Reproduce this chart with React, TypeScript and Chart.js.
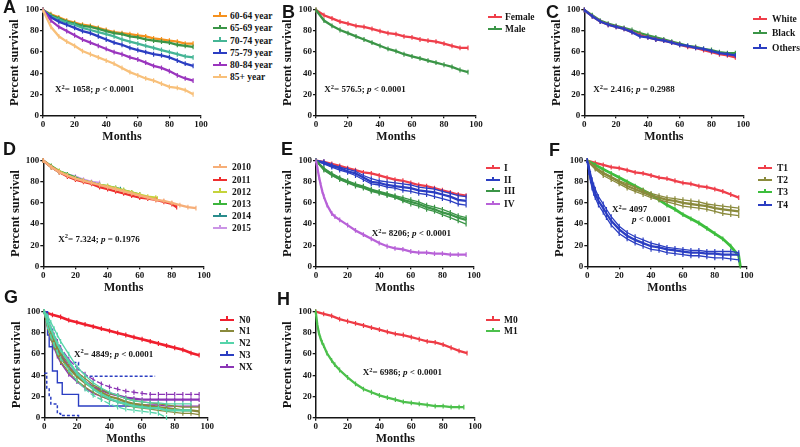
import React, { useEffect, useRef } from 'react';
import { Chart, registerables } from 'chart.js';

Chart.register(...registerables);

const SERIF = '"Liberation Serif", "Times New Roman", Times, serif';
const SANS = '"Liberation Sans", Arial, Helvetica, sans-serif';
const INK = '#151515';

// ---------------- data (months / percent survival) ----------------
const MONTHS = [0, 5, 10, 15, 20, 25, 30, 35, 40, 45, 50, 55, 60, 65, 70, 75, 80, 85, 90, 95];
const EARLY_MONTHS = [0, 1, 2, 3, 4, 5, 7, 10, 12, 15, 20, 25, 30, 35, 40, 45, 50, 55, 60, 65, 70, 75, 80, 85, 90, 95];

// A: age groups
const A_6064 = [100, 96, 93, 90, 88, 86, 85, 83, 81, 79, 78, 77, 76, 75, 73, 72, 71, 70, 68, 68];
const A_6569 = [100, 95, 92, 89, 87, 85, 84, 82, 80, 78, 77, 75, 74, 72, 71, 70, 69, 67, 66, 65];
const A_7074 = [100, 94, 91, 88, 86, 83, 81, 79, 77, 75, 72, 70, 68, 66, 64, 62, 60, 58, 56, 55];
const A_7579 = [100, 93, 89, 86, 83, 80, 78, 75, 72, 69, 67, 64, 62, 60, 58, 57, 55, 52, 49, 47];
const A_8084 = [100, 90, 84, 80, 76, 72, 69, 66, 63, 60, 58, 55, 53, 50, 47, 45, 42, 38, 35, 33];
const A_85 = [100, 84, 75, 70, 66, 61, 58, 55, 52, 49, 45, 41, 38, 35, 33, 30, 27, 26, 24, 20];

// B: sex
const B_FEMALE = [100, 95, 92, 89, 87, 85, 84, 82, 80, 78, 77, 75, 74, 72, 71, 70, 68, 66, 64, 64];
const B_MALE = [100, 90, 85, 81, 78, 75, 72, 69, 66, 63, 61, 58, 56, 54, 52, 50, 48, 46, 43, 41];

// C: race
const C_WHITE = [100, 94, 89, 86, 84, 82, 79, 76, 74, 72, 71, 69, 67, 65, 64, 62, 60, 58, 57, 55];
const C_BLACK = [100, 95, 90, 87, 85, 83, 81, 78, 76, 74, 72, 70, 68, 66, 65, 63, 62, 60, 59, 59];
const C_OTHERS = [100, 94, 89, 86, 84, 82, 79, 75, 74, 72, 71, 69, 67, 66, 64, 63, 61, 59, 58, 57];

// D: year of diagnosis
const D_2010_M = [0, 5, 10, 15, 20, 25, 30, 35, 40, 45, 50, 55, 60, 65, 70, 75, 80, 85, 90, 95];
const D_2010 = [100, 94, 89, 86, 83, 81, 79, 77, 75, 73, 71, 69, 67, 65, 63, 62, 60, 58, 56, 55];
const D_2011_M = [0, 5, 10, 15, 20, 25, 30, 35, 40, 45, 50, 55, 60, 65, 70, 75, 80, 83];
const D_2011 = [100, 94, 89, 85, 82, 80, 78, 75, 73, 71, 69, 67, 65, 64, 63, 61, 59, 56];
const D_2012_M = [0, 5, 10, 15, 20, 25, 30, 35, 40, 45, 50, 55, 60, 65, 70, 71];
const D_2012 = [100, 94, 90, 86, 83, 81, 79, 77, 76, 74, 72, 70, 68, 66, 65, 64];
const D_2013_M = [0, 5, 10, 15, 20, 25, 30, 35, 40, 45, 50, 55, 60];
const D_2013 = [100, 95, 90, 87, 84, 81, 79, 77, 76, 74, 72, 70, 68];
const D_2014_M = [0, 5, 10, 15, 20, 25, 30, 35, 40, 45, 48];
const D_2014 = [100, 94, 89, 86, 83, 81, 79, 77, 75, 74, 73];
const D_2015_M = [0, 5, 10, 15, 20, 25, 30, 35];
const D_2015 = [100, 94, 90, 87, 85, 82, 80, 79];

// E: stage
const E_I = [100, 99, 97, 95, 93, 91, 89, 88, 86, 84, 82, 81, 79, 77, 76, 74, 72, 70, 68, 67];
const E_II = [100, 98, 95, 93, 90, 88, 84, 80, 79, 77, 76, 75, 74, 72, 71, 70, 68, 66, 63, 62];
const E_II_HI = [100, 99, 96, 94, 92, 90, 86, 83, 81, 80, 79, 78, 77, 75, 74, 73, 71, 69, 67, 66];
const E_II_LO = [100, 97, 94, 91, 89, 86, 82, 78, 77, 75, 74, 72, 71, 69, 68, 66, 64, 62, 59, 58];
const E_III = [100, 92, 87, 83, 80, 77, 75, 72, 70, 68, 66, 63, 61, 59, 56, 54, 51, 49, 46, 44];
const E_III_HI = [100, 93, 88, 84, 81, 78, 76, 73, 71, 69, 67, 65, 63, 61, 58, 56, 54, 51, 48, 46];
const E_III_LO = [100, 91, 86, 82, 79, 76, 74, 71, 69, 67, 65, 62, 59, 57, 54, 52, 49, 46, 43, 40];
const E_IV = [100, 92, 84, 77, 71, 66, 58, 50, 47, 44, 39, 34, 30, 26, 22, 19, 17, 16, 14, 13, 13, 12, 12, 11, 11, 11];

// F: T stage
const F_T1 = [100, 98, 96, 94, 93, 91, 89, 88, 86, 84, 83, 81, 79, 78, 76, 75, 73, 71, 68, 65];
const F_T2 = [100, 93, 88, 84, 80, 76, 73, 70, 67, 65, 63, 62, 60, 59, 58, 57, 55, 54, 53, 52];
const F_T2_HI = [100, 94, 89, 85, 81, 78, 75, 72, 69, 67, 65, 64, 63, 62, 61, 59, 58, 57, 56, 55];
const F_T2_LO = [100, 92, 86, 82, 78, 74, 71, 68, 65, 63, 61, 59, 57, 56, 55, 54, 52, 50, 49, 48];
const F_T3_M = [0, 5, 10, 15, 20, 25, 30, 35, 40, 45, 50, 55, 60, 65, 70, 75, 80, 85, 90, 95, 96];
const F_T3 = [100, 96, 92, 88, 84, 80, 76, 72, 68, 63, 58, 54, 49, 45, 41, 36, 31, 26, 19, 10, 0];
const F_T4 = [100, 92, 84, 78, 73, 69, 62, 55, 50, 43, 35, 29, 25, 22, 19, 18, 16, 15, 14, 13, 13, 12, 12, 11, 11, 11];
const F_T4_HI = [100, 95, 88, 82, 77, 73, 66, 59, 54, 47, 38, 32, 28, 25, 22, 20, 18, 17, 16, 15, 15, 14, 14, 14, 14, 13];
const F_T4_LO = [100, 89, 81, 74, 69, 65, 58, 51, 46, 39, 31, 26, 22, 19, 16, 15, 13, 12, 11, 10, 10, 9, 8, 8, 7, 6];

// G: N stage
const G_N0 = [100, 97, 95, 92, 90, 88, 86, 84, 82, 80, 78, 76, 74, 72, 70, 68, 66, 64, 61, 59];
const N_MONTHS = [0, 2, 4, 6, 8, 10, 15, 20, 25, 30, 35, 40, 45, 50, 55, 60, 65, 70, 75, 80, 85, 90, 95];
const G_N1 = [100, 88, 78, 70, 63, 57, 47, 39, 33, 28, 24, 20, 18, 15, 13, 12, 11, 10, 9, 8, 7, 7, 6];
const G_N1_HI = [100, 91, 81, 74, 67, 61, 51, 43, 37, 31, 27, 23, 21, 18, 16, 15, 14, 13, 12, 11, 10, 10, 10];
const G_N1_LO = [100, 85, 75, 67, 60, 53, 43, 35, 29, 24, 20, 17, 15, 12, 10, 9, 8, 7, 6, 5, 4, 4, 3];
const N2_MONTHS = [0, 2, 4, 6, 8, 10, 15, 20, 25, 30, 35, 40, 45, 50, 55, 60, 65, 70, 75, 80, 85, 90];
const G_N2 = [100, 92, 84, 77, 70, 64, 53, 42, 34, 27, 22, 18, 15, 13, 11, 10, 9, 9, 7, 7, 7, 7];
const G_N2_HI = [100, 96, 90, 84, 78, 72, 60, 48, 40, 33, 28, 24, 21, 18, 16, 15, 14, 14, 13, 13, 13, 13];
const N2_LO_MONTHS = [0, 2, 4, 6, 8, 10, 15, 20, 25, 30, 35, 40, 45, 50, 55, 60, 65, 70, 75];
const G_N2_LO = [100, 86, 77, 69, 62, 56, 45, 35, 27, 21, 17, 13, 10, 8, 7, 6, 5, 4, 0];
const N3_MONTHS = [0, 2, 3, 5, 8, 11, 21, 68];
const G_N3 = [100, 78, 67, 44, 33, 22, 11, 11];
const G_N3_HI = [100, 92, 85, 67, 60, 52, 39, 39];
const N3_LO_MONTHS = [0, 1.5, 3, 4, 8, 10, 21];
const G_N3_LO = [42, 28, 20, 13, 4, 2, 1];
const G_NX = [100, 89, 80, 72, 65, 59, 48, 40, 34, 29, 26, 23, 21, 19, 18, 17, 17, 17, 17, 17, 17, 17, 17];
const G_NX_HI = [100, 93, 85, 78, 72, 66, 55, 47, 41, 36, 32, 29, 27, 25, 24, 23, 22, 22, 22, 22, 22, 22, 22];
const G_NX_LO = [100, 85, 75, 66, 58, 52, 41, 34, 28, 23, 20, 17, 15, 14, 13, 12, 12, 12, 11, 11, 11, 11, 11];

// H: M stage
const H_M0 = [100, 98, 96, 93, 91, 89, 87, 85, 83, 81, 79, 78, 76, 74, 72, 71, 69, 66, 63, 61];
const M1_MONTHS = [0, 1, 2, 3, 4, 5, 7, 10, 12, 15, 20, 25, 30, 35, 40, 45, 50, 55, 60, 65, 70, 75, 80, 85, 90, 93];
const H_M1 = [100, 88, 80, 75, 71, 68, 61, 54, 50, 45, 38, 32, 27, 24, 21, 19, 17, 15, 14, 13, 12, 11, 11, 10, 10, 10];

// ---------------- colours & labels ----------------
const C_ORANGE = '#F5911E';
const C_GREEN = '#3B9547';
const C_TEAL = '#45B596';
const C_BLUE = '#2B3EC2';
const C_PURPLE = '#9A35BE';
const C_PEACH = '#F8C07A';
const C_RED = '#EF3E4A';
const C_OLIVE = '#8A8A3C';
const C_LIME = '#3DBE3D';
const C_AQUA = '#55D4AA';
const C_VIOLET = '#B862D8';

type Curve = { months: number[]; values: number[]; color: string; width?: number; dash?: number[]; stepped?: boolean; marks?: boolean };
type LegendItem = { label: string; color: string };
type Stat = { chi: string; op: string; p: string; x: number; y: number; split?: boolean; x2?: number; y2?: number };
type PanelDef = {
  letter: string; letterX: number; letterY: number;
  L: number; R: number; T: number; B: number;
  curves: Curve[];
  legend: LegendItem[]; legendX: number; textX: number; legendY: number[];
  stat: Stat;
};

const CI = 1.3;

const PANELS: PanelDef[] = [
  {
    letter: 'A', letterX: 3, letterY: 0, L: 43, R: 201, T: 10, B: 115.3,
    curves: [
      { months: MONTHS, values: A_85, color: C_PEACH },
      { months: MONTHS, values: A_8084, color: C_PURPLE },
      { months: MONTHS, values: A_7579, color: C_BLUE },
      { months: MONTHS, values: A_7074, color: C_TEAL },
      { months: MONTHS, values: A_6569, color: C_GREEN },
      { months: MONTHS, values: A_6064, color: C_ORANGE },
    ],
    legend: [
      { label: '60-64 year', color: C_ORANGE }, { label: '65-69 year', color: C_GREEN },
      { label: '70-74 year', color: C_TEAL }, { label: '75-79 year', color: C_BLUE },
      { label: '80-84 year', color: C_PURPLE }, { label: '85+ year', color: C_PEACH },
    ],
    legendX: 213, textX: 230, legendY: [15.7, 28.3, 40.7, 52.7, 65.3, 77.3],
    stat: { chi: '1058', op: '<', p: '0.0001', x: 55, y: 89.3 },
  },
  {
    letter: 'B', letterX: 282, letterY: 5, L: 316, R: 476, T: 10, B: 115.3,
    curves: [
      { months: MONTHS, values: B_MALE, color: C_GREEN },
      { months: MONTHS, values: B_FEMALE, color: C_RED },
    ],
    legend: [{ label: 'Female', color: C_RED }, { label: 'Male', color: C_GREEN }],
    legendX: 488, textX: 505, legendY: [17.3, 29],
    stat: { chi: '576.5', op: '<', p: '0.0001', x: 324.3, y: 89.3 },
  },
  {
    letter: 'C', letterX: 546, letterY: 5, L: 584.3, R: 743.3, T: 10, B: 115.3,
    curves: [
      { months: MONTHS, values: C_OTHERS, color: C_BLUE },
      { months: MONTHS, values: C_WHITE, color: C_RED },
      { months: MONTHS, values: C_BLACK, color: C_GREEN },
    ],
    legend: [{ label: 'White', color: C_RED }, { label: 'Black', color: C_GREEN }, { label: 'Others', color: C_BLUE }],
    legendX: 753, textX: 772, legendY: [19, 33.3, 47.7],
    stat: { chi: '2.416', op: '=', p: '0.2988', x: 593.3, y: 89.3 },
  },
  {
    letter: 'D', letterX: 3, letterY: 142, L: 43.3, R: 204, T: 160.7, B: 266.3,
    curves: [
      { months: D_2010_M, values: D_2010, color: '#F6AE78' },
      { months: D_2011_M, values: D_2011, color: '#EE2F2F' },
      { months: D_2012_M, values: D_2012, color: '#C5D33B' },
      { months: D_2013_M, values: D_2013, color: '#3DB53D' },
      { months: D_2014_M, values: D_2014, color: '#2A8C8C' },
      { months: D_2015_M, values: D_2015, color: '#CB95E6' },
    ],
    legend: [
      { label: '2010', color: '#F6AE78' }, { label: '2011', color: '#EE2F2F' }, { label: '2012', color: '#C5D33B' },
      { label: '2013', color: '#3DB53D' }, { label: '2014', color: '#2A8C8C' }, { label: '2015', color: '#CB95E6' },
    ],
    legendX: 213, textX: 232, legendY: [167, 180.3, 191.7, 203.7, 216.3, 228],
    stat: { chi: '7.324', op: '= ', p: '0.1976', x: 58.3, y: 238.7 },
  },
  {
    letter: 'E', letterX: 281, letterY: 142, L: 316, R: 474, T: 160.7, B: 266.3,
    curves: [
      { months: EARLY_MONTHS, values: E_IV, color: C_VIOLET },
      { months: MONTHS, values: E_III_HI, color: C_GREEN, width: CI },
      { months: MONTHS, values: E_III_LO, color: C_GREEN, width: CI },
      { months: MONTHS, values: E_III, color: C_GREEN },
      { months: MONTHS, values: E_II_HI, color: C_BLUE, width: CI },
      { months: MONTHS, values: E_II_LO, color: C_BLUE, width: CI },
      { months: MONTHS, values: E_II, color: C_BLUE },
      { months: MONTHS, values: E_I, color: C_RED },
    ],
    legend: [{ label: 'I', color: C_RED }, { label: 'II', color: C_BLUE }, { label: 'III', color: C_GREEN }, { label: 'IV', color: C_VIOLET }],
    legendX: 486, textX: 504, legendY: [168, 180.3, 191.3, 204],
    stat: { chi: '8206', op: '<', p: '0.0001', x: 371.7, y: 233 },
  },
  {
    letter: 'F', letterX: 549, letterY: 143, L: 587.3, R: 746.7, T: 160.7, B: 266.3,
    curves: [
      { months: EARLY_MONTHS, values: F_T4_HI, color: C_BLUE, width: CI },
      { months: EARLY_MONTHS, values: F_T4_LO, color: C_BLUE, width: CI },
      { months: EARLY_MONTHS, values: F_T4, color: C_BLUE },
      { months: MONTHS, values: F_T2_HI, color: C_OLIVE, width: CI },
      { months: MONTHS, values: F_T2_LO, color: C_OLIVE, width: CI },
      { months: MONTHS, values: F_T2, color: C_OLIVE },
      { months: F_T3_M, values: F_T3, color: C_LIME, width: 2.8 },
      { months: MONTHS, values: F_T1, color: C_RED },
    ],
    legend: [{ label: 'T1', color: C_RED }, { label: 'T2', color: C_OLIVE }, { label: 'T3', color: C_LIME }, { label: 'T4', color: C_BLUE }],
    legendX: 758, textX: 777, legendY: [168, 180.3, 192, 204.7],
    stat: { chi: '4097', op: '<', p: '0.0001', x: 612, y: 209, split: true, x2: 632, y2: 219 },
  },
  {
    letter: 'G', letterX: 4, letterY: 290, L: 44.3, R: 207.3, T: 311.7, B: 417.7,
    curves: [
      { months: N2_MONTHS, values: G_N2_HI, color: C_AQUA, width: CI },
      { months: N2_LO_MONTHS, values: G_N2_LO, color: C_AQUA, width: CI, dash: [6, 2] },
      { months: N2_MONTHS, values: G_N2, color: C_AQUA },
      { months: N_MONTHS, values: G_N1_HI, color: C_OLIVE, width: CI },
      { months: N_MONTHS, values: G_N1_LO, color: C_OLIVE, width: CI },
      { months: N_MONTHS, values: G_N1, color: C_OLIVE },
      { months: N_MONTHS, values: G_NX_HI, color: '#8B35B5', width: CI, dash: [7, 2] },
      { months: N_MONTHS, values: G_NX_LO, color: '#8B35B5', width: CI },
      { months: N_MONTHS, values: G_NX, color: '#8B35B5' },
      { months: N3_MONTHS, values: G_N3_HI, color: C_BLUE, width: 1.5, dash: [3, 2], stepped: true, marks: false },
      { months: N3_LO_MONTHS, values: G_N3_LO, color: C_BLUE, width: 1.5, dash: [3, 2], stepped: true, marks: false },
      { months: N3_MONTHS, values: G_N3, color: C_BLUE, width: 1.4, stepped: true, marks: false },
      { months: MONTHS, values: G_N0, color: '#F01F2E', width: 2.6 },
    ],
    legend: [
      { label: 'N0', color: '#F01F2E' }, { label: 'N1', color: C_OLIVE }, { label: 'N2', color: C_AQUA },
      { label: 'N3', color: C_BLUE }, { label: 'NX', color: '#8B35B5' },
    ],
    legendX: 220, textX: 239, legendY: [319.7, 331.3, 343, 354.7, 367],
    stat: { chi: '4849', op: '<', p: '0.0001', x: 74, y: 353.7 },
  },
  {
    letter: 'H', letterX: 277, letterY: 292, L: 315.7, R: 475, T: 311.7, B: 417.7,
    curves: [
      { months: M1_MONTHS, values: H_M1, color: '#4CC04C' },
      { months: MONTHS, values: H_M0, color: '#EE3B45' },
    ],
    legend: [{ label: 'M0', color: '#EE3B45' }, { label: 'M1', color: '#4CC04C' }],
    legendX: 486, textX: 504, legendY: [319.7, 331],
    stat: { chi: '6986', op: '<', p: '0.0001', x: 362.7, y: 372 },
  },
];

// ---------------- components ----------------
function Panel({ def }: { def: PanelDef }) {
  const ref = useRef<HTMLCanvasElement | null>(null);
  const left = Math.round(def.L - 40);
  const top = Math.round(def.T - 8);
  const width = Math.round(def.R + 12 - left);
  const height = Math.round(def.B + 30 - top);
  const YW = def.L - left;
  const PT = def.T - top;
  const PR = left + width - def.R;
  const XH = top + height - def.B;

  useEffect(() => {
    if (!ref.current) return;
    const tickFont = { family: SERIF, size: 9, weight: 'bold' as const };
    const chart = new Chart(ref.current, {
      type: 'line',
      data: {
        datasets: def.curves.map((c) => ({
          data: c.months.map((m, i) => ({ x: m, y: c.values[i] })),
          borderColor: c.color,
          backgroundColor: c.color,
          borderWidth: c.width ?? 2.3,
          borderDash: c.dash ?? [],
          stepped: c.stepped ? true : false,
          tension: 0,
          fill: false,
          pointStyle: 'line',
          rotation: 90,
          pointRadius: c.marks === false ? 0 : 2.4,
          pointBorderWidth: 1.2,
          pointBorderColor: c.color,
          pointHoverRadius: 0,
          clip: 6,
        })) as any,
      },
      options: {
        responsive: false,
        animation: false,
        events: [],
        layout: { padding: { left: 0, top: PT, right: PR, bottom: 0 } },
        plugins: { legend: { display: false }, tooltip: { enabled: false }, title: { display: false } },
        scales: {
          x: {
            type: 'linear', min: 0, max: 100,
            ticks: { stepSize: 20, color: INK, font: tickFont, padding: 1, maxRotation: 0, autoSkip: false },
            grid: { display: true, drawOnChartArea: false, drawTicks: true, tickLength: 3, color: INK, lineWidth: 1.3 },
            border: { display: true, color: INK, width: 1.5 },
            title: {
              display: true, text: 'Months', color: INK,
              font: { family: SERIF, size: 12, weight: 'bold' },
              padding: { top: 0, bottom: Math.max(0, XH - 28.7) },
            },
            afterFit: (s: any) => { s.height = XH; },
          },
          y: {
            type: 'linear', min: 0, max: 100,
            ticks: { stepSize: 20, color: INK, font: tickFont, padding: 1, autoSkip: false },
            grid: { display: true, drawOnChartArea: false, drawTicks: true, tickLength: 3, color: INK, lineWidth: 1.3 },
            border: { display: true, color: INK, width: 1.5 },
            title: {
              display: true, text: 'Percent survival', color: INK,
              font: { family: SERIF, size: 12.5, weight: 'bold' },
              padding: { top: Math.max(0, YW - 28 - 7.5), bottom: 0 },
            },
            afterFit: (s: any) => { s.width = YW; },
          },
        },
      } as any,
    });
    return () => chart.destroy();
  }, []);

  const textStyle = (x: number, cy: number, size: number): React.CSSProperties => ({
    position: 'absolute', left: x, top: cy - 6, lineHeight: '12px', height: 12,
    fontFamily: SERIF, fontWeight: 'bold', fontSize: size, color: INK, whiteSpace: 'nowrap',
  });
  const sup: React.CSSProperties = { fontSize: 6.5, position: 'relative', top: -3.5, verticalAlign: 'baseline' };
  const s = def.stat;

  return (
    <>
      <canvas ref={ref} width={width} height={height}
        style={{ position: 'absolute', left, top, width, height }} />
      <div style={{
        position: 'absolute', left: def.letterX, top: def.letterY - 2.3, fontFamily: SANS, fontWeight: 'bold',
        fontSize: 18, lineHeight: '18px', color: INK,
      }}>{def.letter}</div>
      {def.legend.map((it, i) => (
        <React.Fragment key={it.label}>
          <div style={{ position: 'absolute', left: def.legendX, top: def.legendY[i] - 1, width: 14, height: 2, background: it.color }} />
          <div style={{ position: 'absolute', left: def.legendX + 6.4, top: def.legendY[i] - 3.5, width: 1.3, height: 3.5, background: it.color }} />
          <div style={textStyle(def.textX, def.legendY[i], 9.5)}>{it.label}</div>
        </React.Fragment>
      ))}
      {s.split ? (
        <>
          <div style={textStyle(s.x, s.y, 9)}>X<span style={sup}>2</span>= {s.chi}</div>
          <div style={textStyle(s.x2 as number, s.y2 as number, 9)}><i>p</i> {s.op} {s.p}</div>
        </>
      ) : (
        <div style={textStyle(s.x, s.y, 9)}>X<span style={sup}>2</span>= {s.chi}; <i>p</i> {s.op} {s.p}</div>
      )}
    </>
  );
}

export default function App() {
  return (
    <div style={{ position: 'absolute', left: 0, top: 0, width: 800, height: 447, background: '#ffffff', overflow: 'hidden' }}>
      {PANELS.map((p) => <Panel key={p.letter} def={p} />)}
    </div>
  );
}
